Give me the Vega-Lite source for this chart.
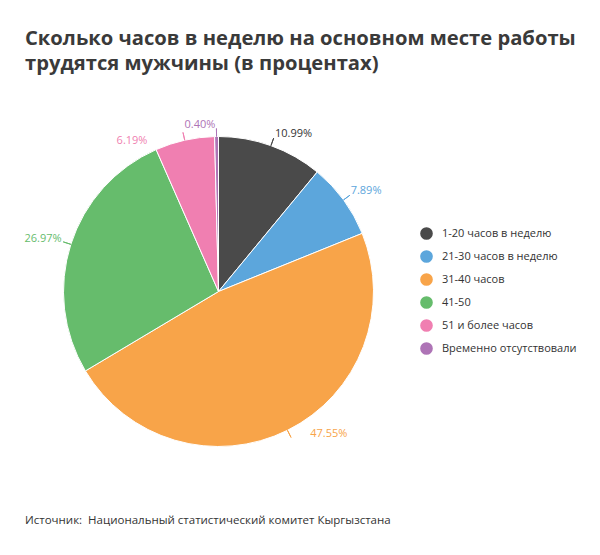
{
  "$schema": "https://vega.github.io/schema/vega-lite/v6.json",
  "autosize": {"type": "none"},
  "width": 437,
  "height": 383,
  "padding": {"left": 0, "top": 100, "right": 163, "bottom": 72},
  "background": "white",
  "title": {
    "text": ["Сколько часов в неделю на основном месте работы", "трудятся мужчины (в процентах)"],
    "anchor": "start",
    "frame": "group",
    "dx": 25,
    "offset": 26,
    "fontSize": 20.2,
    "lineHeight": 25,
    "font": "Open Sans",
    "fontWeight": "bold",
    "color": "#3a3a3a"
  },
  "config": {"view": {"stroke": null}},
  "data": {
    "values": [
      {"i": 1, "cat": "1-20 часов в неделю", "value": 10.99, "label": "10.99%"},
      {"i": 2, "cat": "21-30 часов в неделю", "value": 7.89, "label": "7.89%"},
      {"i": 3, "cat": "31-40 часов", "value": 47.55, "label": "47.55%"},
      {"i": 4, "cat": "41-50", "value": 26.97, "label": "26.97%"},
      {"i": 5, "cat": "51 и более часов", "value": 6.19, "label": "6.19%"},
      {"i": 6, "cat": "Временно отсутствовали", "value": 0.40, "label": "0.40%"}
    ]
  },
  "encoding": {
    "theta": {"field": "value", "type": "quantitative", "stack": true},
    "order": {"field": "i", "type": "quantitative"},
    "color": {
      "field": "cat",
      "type": "nominal",
      "sort": ["1-20 часов в неделю", "21-30 часов в неделю", "31-40 часов", "41-50", "51 и более часов", "Временно отсутствовали"],
      "scale": {
        "domain": ["1-20 часов в неделю", "21-30 часов в неделю", "31-40 часов", "41-50", "51 и более часов", "Временно отсутствовали"],
        "range": ["#4a4a4a", "#5ca6dc", "#f8a449", "#66bc6c", "#f07fb1", "#ae74b6"]
      },
      "legend": {
        "title": null,
        "orient": "none",
        "legendX": 420,
        "legendY": 127,
        "symbolType": "circle",
        "symbolSize": 160,
        "symbolStrokeWidth": 0,
        "labelFont": "Open Sans",
        "labelFontSize": 11,
        "labelColor": "#333333",
        "rowPadding": 10,
        "labelOffset": 9
      }
    }
  },
  "layer": [
    {
      "mark": {"type": "arc", "radius": 155, "stroke": "white", "strokeWidth": 1}
    },
    {
      "mark": {"type": "arc", "radius": 163, "radius2": 155, "padAngle": 3, "filled": false, "strokeWidth": 1}
    },
    {
      "mark": {"type": "text", "radius": 170, "align": "left", "baseline": "middle", "dx": -1, "dy": 2, "font": "Open Sans", "fontSize": 11},
      "encoding": {"text": {"condition": {"test": "datum.i == 1", "field": "label"}, "value": ""}, "color": {"value": "#333333"}}
    },
    {
      "mark": {"type": "text", "radius": 170, "align": "left", "baseline": "middle", "dx": -5, "dy": 0, "font": "Open Sans", "fontSize": 11},
      "encoding": {"text": {"condition": {"test": "datum.i == 2", "field": "label"}, "value": ""}}
    },
    {
      "mark": {"type": "text", "radius": 170, "align": "left", "baseline": "middle", "dx": 16, "dy": -10, "font": "Open Sans", "fontSize": 11},
      "encoding": {"text": {"condition": {"test": "datum.i == 3", "field": "label"}, "value": ""}}
    },
    {
      "mark": {"type": "text", "radius": 170, "align": "right", "baseline": "middle", "dx": 5, "dy": -1, "font": "Open Sans", "fontSize": 11},
      "encoding": {"text": {"condition": {"test": "datum.i == 4", "field": "label"}, "value": ""}}
    },
    {
      "mark": {"type": "text", "radius": 170, "align": "right", "baseline": "middle", "dx": -34, "dy": 15, "font": "Open Sans", "fontSize": 11},
      "encoding": {"text": {"condition": {"test": "datum.i == 5", "field": "label"}, "value": ""}}
    },
    {
      "mark": {"type": "text", "radius": 170, "align": "right", "baseline": "middle", "dx": -1, "dy": 3, "font": "Open Sans", "fontSize": 11},
      "encoding": {"text": {"condition": {"test": "datum.i == 6", "field": "label"}, "value": ""}}
    },
    {
      "data": {"values": [{"t": "Источник:\u00a0 Национальный статистический комитет Кыргызстана"}]},
      "mark": {"type": "text", "align": "left", "baseline": "middle", "font": "Open Sans", "fontSize": 11.5, "color": "#333333"},
      "encoding": {
        "x": {"value": 25},
        "y": {"value": 421},
        "text": {"field": "t"},
        "theta": null,
        "order": null,
        "color": null
      }
    }
  ]
}
